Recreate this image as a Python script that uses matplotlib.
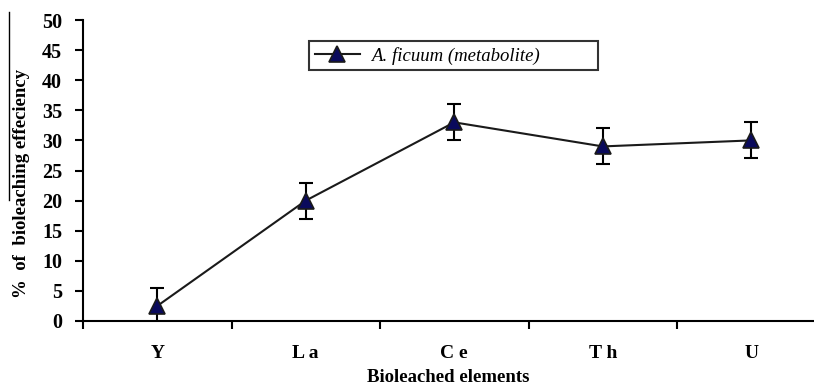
import numpy as np
import matplotlib
matplotlib.use('Agg')
import matplotlib.pyplot as plt
from matplotlib.lines import Line2D

elements = ['Y', 'L a', 'C e', 'T h', 'U']
efficiency = [2.5, 20, 33, 29, 30]
err = [3, 3, 3, 3, 3]

plt.rcParams['font.family'] = 'Liberation Serif'

fig = plt.figure(figsize=(8.14, 3.86), dpi=100)
ax = fig.add_axes([83/814, 1-321/386, 1-83/814, (321-20)/386])

x = np.arange(len(elements))
ax.errorbar(x, efficiency, yerr=err, fmt='none', ecolor='black',
            elinewidth=1.5, capsize=5, capthick=1.5)
ax.plot(x, efficiency, color='#1a1a1a', lw=1.5, marker='^',
        ms=11, mfc='#0a0a5c', mec='#1a1a1a', mew=1.2,
        label='A. ficuum (metabolite)           ')

ax.set_xlim(-0.5, -0.5 + 731/148.5)
ax.set_ylim(0, 50)
ax.set_yticks(range(0, 51, 5))
ax.set_xticks(np.arange(-0.5, 4.5, 1))
ax.set_xticklabels([])
ax.set_xticks(x, minor=True)
ax.set_xticklabels(elements, minor=True)
ax.tick_params(axis='x', which='minor', length=0, pad=17, labelsize=14)
ax.tick_params(axis='x', which='major', length=6, width=1.5, direction='out')
ax.tick_params(axis='y', length=6, width=1.5, labelsize=14.5, pad=9)
for lab in ax.get_yticklabels() + ax.get_xticklabels(minor=True):
    lab.set_fontweight('bold')

ax.spines['top'].set_visible(False)
ax.spines['right'].set_visible(False)
ax.spines['left'].set_linewidth(1.5)
ax.spines['bottom'].set_linewidth(1.5)

fig.text(448/814, 1-377/386, 'Bioleached elements', fontsize=13.5,
         fontweight='bold', ha='center', va='center')
fig.text(22/814, 1-183/386, '%  of  bioleaching effeciency', rotation=90,
         fontsize=13.5, fontweight='bold', ha='center', va='center')
fig.add_artist(Line2D([9/814, 9/814], [1-12/386, 1-200/386], color='black', lw=1))

leg = ax.legend(loc='upper left', bbox_to_anchor=((309-83)/731, (321-41)/301),
                prop={'style': 'italic', 'size': 13.5}, fancybox=False,
                frameon=True, borderpad=0.3, handlelength=2.4,
                borderaxespad=0, handletextpad=0.6)
leg.get_frame().set_edgecolor('black')
leg.get_frame().set_linewidth(1.5)

plt.savefig('out.png', dpi=100)
